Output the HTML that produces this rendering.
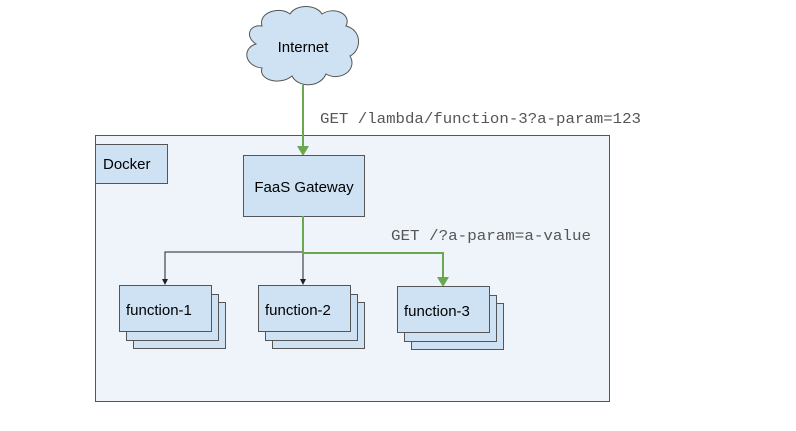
<!DOCTYPE html>
<html><head><style>
body{margin:0;width:796px;height:431px;background:#fff;overflow:hidden;position:relative;font-family:"Liberation Sans",sans-serif;}
</style></head><body>
<svg width="796" height="431" viewBox="0 0 796 431" xmlns="http://www.w3.org/2000/svg" style="position:absolute;left:0;top:0">
<rect x="95.5" y="135.5" width="514" height="266" fill="#eef4f9" stroke="#555" stroke-width="1"/>
<rect x="95.5" y="144.5" width="72" height="39" fill="#cfe2f3" stroke="#555"/>
<text x="103" y="169" font-size="15" fill="#000">Docker</text>
<path d="M262,26 C258,12 280,6 290,14 C296,4 316,4 322,14 C334,6 352,14 346,26 C362,30 362,50 350,56 C358,70 340,82 326,74 C320,88 298,88 292,76 C280,86 258,80 262,68 C244,66 242,48 256,44 C244,36 250,24 262,26 Z" fill="#cfe2f3" stroke="#555"/>
<text x="303" y="52" font-size="15" text-anchor="middle" fill="#000">Internet</text>
<line x1="303" y1="85" x2="303" y2="148" stroke="#6aa84f" stroke-width="2"/>
<path d="M297,146 L309,146 L303,156 Z" fill="#6aa84f"/>
<text x="320" y="123" font-family="Liberation Mono,monospace" font-size="15" textLength="321" lengthAdjust="spacingAndGlyphs" fill="#555">GET /lambda/function-3?a-param=123</text>
<rect x="243.5" y="155.5" width="121" height="61" fill="#cfe2f3" stroke="#555"/>
<text x="304" y="192" font-size="15" text-anchor="middle" fill="#000">FaaS Gateway</text>
<path d="M303,216 V252 H165 V282" fill="none" stroke="#222" stroke-width="1"/>
<path d="M162,279 L168,279 L165,285 Z" fill="#222"/>
<line x1="303" y1="252" x2="303" y2="282" stroke="#222"/>
<path d="M300,279 L306,279 L303,285 Z" fill="#222"/>
<path d="M303,216 V253 H443 V279" fill="none" stroke="#6aa84f" stroke-width="2"/>
<path d="M437,277 L449,277 L443,287 Z" fill="#6aa84f"/>
<text x="391" y="240" font-family="Liberation Mono,monospace" font-size="15" textLength="200" lengthAdjust="spacingAndGlyphs" fill="#555">GET /?a-param=a-value</text>
<g fill="#cfe2f3" stroke="#555">
<rect x="133.5" y="302.5" width="92" height="46"/>
<rect x="126.5" y="294.5" width="92" height="46"/>
<rect x="119.5" y="285.5" width="92" height="46"/>
<rect x="272.5" y="302.5" width="92" height="46"/>
<rect x="265.5" y="294.5" width="92" height="46"/>
<rect x="258.5" y="285.5" width="92" height="46"/>
<rect x="411.5" y="303.5" width="92" height="46"/>
<rect x="404.5" y="295.5" width="92" height="46"/>
<rect x="397.5" y="286.5" width="92" height="46"/>
</g>
<text x="126" y="315" font-size="15" fill="#000">function-1</text>
<text x="265" y="315" font-size="15" fill="#000">function-2</text>
<text x="404" y="316" font-size="15" fill="#000">function-3</text>
</svg>
</body></html>
